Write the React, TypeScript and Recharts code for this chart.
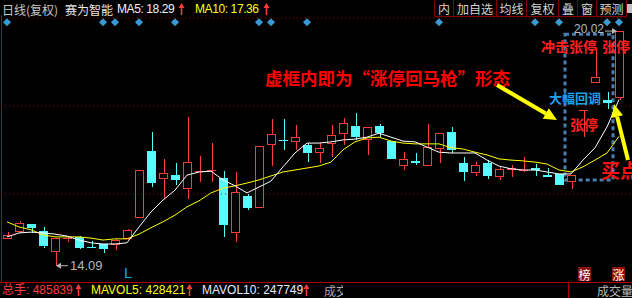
import React from "react";
import {
  ComposedChart,
  Bar,
  Line,
  XAxis,
  YAxis,
  ReferenceLine,
  ReferenceArea,
  ReferenceDot,
} from "recharts";

// daily K line, 52 sessions
const opens = [
  14.77, 14.94, 15.15, 14.97, 14.44, 14.78, 14.82, 14.56, 14.64, 14.62, 14.77, 15.3, 16.99,
  16.28, 16.38, 16.03, 16.46, 16.49, 16.31, 14.92, 15.85, 15.55, 17.14, 17.27, 17.22, 17.14,
  16.94, 17.17, 17.42, 17.62, 17.27, 17.62, 17.24, 16.61, 16.74, 16.61, 17.04, 17.47, 16.69,
  16.43, 16.69, 16.33, 16.52, 16.48, 16.56, 16.38, 16.41, 16.21, 18.02, 18.71, 18.29, 18.33,
];
const closes = [
  14.87, 15.17, 15.05, 14.59, 14.79, 14.8, 14.54, 14.54, 14.52, 14.74, 14.99, 16.51, 16.18,
  16.43, 16.26, 16.71, 16.48, 16.51, 15.12, 15.95, 15.55, 17.12, 17.42, 17.25, 17.34, 16.94,
  17.07, 17.39, 17.7, 17.34, 17.6, 17.44, 16.79, 16.79, 16.69, 17.09, 17.44, 17.02, 16.46,
  16.64, 16.36, 16.54, 16.56, 16.52, 16.52, 16.33, 16.13, 16.38, 18.02, 18.86, 18.2, 20.02,
];
const highs = [
  14.94, 15.22, 15.15, 15.07, 14.79, 14.84, 14.84, 14.72, 14.64, 14.76, 15.02, 16.51, 17.47,
  16.79, 16.69, 17.85, 16.86, 17.19, 16.48, 16.46, 15.9, 17.12, 17.8, 17.8, 17.65, 17.19,
  17.19, 17.65, 17.82, 17.95, 17.6, 17.67, 17.24, 16.96, 16.94, 17.67, 17.44, 17.6, 16.84,
  16.71, 16.76, 16.59, 16.64, 16.84, 16.66, 16.56, 16.41, 16.38, 18.02, 19.59, 18.48, 20.02,
];
const lows = [
  14.77, 14.92, 14.92, 14.54, 14.09, 14.69, 14.52, 14.53, 14.41, 14.49, 14.75, 15.3, 16.08,
  15.8, 16.13, 15.78, 16.21, 16.21, 14.82, 14.69, 15.5, 15.55, 16.61, 17.02, 17.02, 16.71,
  16.69, 16.84, 17.14, 17.27, 16.89, 17.34, 16.79, 16.51, 16.64, 16.61, 16.69, 16.94, 16.23,
  16.36, 16.28, 16.26, 16.33, 16.46, 16.36, 16.33, 16.13, 16.03, 17.34, 18.71, 18.05, 18.28,
];
const ma5 = [
  14.82, 14.92, 14.94, 14.92, 14.89, 14.84, 14.74, 14.67, 14.64, 14.64, 14.67, 15.07, 15.45,
  15.75, 16.0, 16.38, 16.46, 16.48, 16.26, 16.11, 15.93, 16.08, 16.23, 16.59, 16.94, 17.19,
  17.19, 17.22, 17.27, 17.29, 17.34, 17.44, 17.34, 17.24, 17.22, 17.09, 16.96, 16.94, 16.94,
  16.94, 16.76, 16.61, 16.54, 16.51, 16.51, 16.46, 16.41, 16.41, 16.76, 17.07, 17.6, 18.29,
];
const ma10 = [
  15.2, 15.07, 15.0, 14.87, 14.82, 14.82, 14.82, 14.79, 14.74, 14.77, 14.77, 14.89, 15.05,
  15.2, 15.37, 15.58, 15.73, 15.93, 16.05, 16.11, 16.18, 16.26, 16.36, 16.46, 16.51, 16.56,
  16.61, 16.71, 17.02, 17.22, 17.32, 17.34, 17.24, 17.19, 17.17, 17.17, 17.17, 17.07, 17.04,
  16.96, 16.89, 16.79, 16.76, 16.74, 16.71, 16.66, 16.51, 16.46, 16.59, 16.76, 16.94, 17.36,
];
// sessions carrying an info marker (blue diamonds under the header)
const markers = [0, 8, 9, 11, 14, 21, 22, 25, 36, 44, 46, 50, 51];
const menu = ["内", "加自选", "均线", "复权", "叠", "窗", "预测"];

const Y_MIN = 13.68;
const Y_MAX = 20.35;
const MARK_LEVEL = 20.24;
const RED = "#ff3c3c";
const CYAN = "#54fcfc";
const GRID = "#a00000";
const CJK = '"Noto Sans CJK SC", sans-serif';
const LATIN = '"Liberation Sans", Arial, "Noto Sans CJK SC", sans-serif';

const rows = opens.map((o, i) => ({
  i,
  open: o,
  close: closes[i],
  high: highs[i],
  low: lows[i],
  ma5: ma5[i],
  ma10: ma10[i],
}));

const minLow = Math.min(...lows);
const minIdx = lows.indexOf(minLow);
const maxHigh = Math.max(...highs);
const maxIdx = highs.indexOf(maxHigh);
const third = (Y_MAX - Y_MIN) / 3;

function Candle(props: any) {
  const { x, y, width, height, payload } = props;
  const { open, close, high, low } = payload;
  const up = close >= open;
  const color = up ? RED : CYAN;
  const k = high > low ? height / (high - low) : 0;
  const py = (v: number) => y + (high - v) * k;
  const cx = Math.round(x + width / 2) + 0.5;
  const left = Math.round(x);
  const w = Math.round(width);
  const top = Math.round(py(Math.max(open, close)));
  const bot = Math.round(py(Math.min(open, close)));
  const yHi = Math.round(y);
  const yLo = Math.round(y + height);
  let body;
  if (bot - top < 3) {
    body = <rect x={left} y={top} width={w} height={Math.max(1, bot - top)} fill={color} />;
  } else if (up) {
    body = (
      <rect x={left + 0.5} y={top + 0.5} width={w - 1} height={bot - top - 1} fill="#000" stroke={color} />
    );
  } else {
    body = <rect x={left} y={top} width={w} height={bot - top} fill={color} />;
  }
  return (
    <g>
      <line x1={cx} x2={cx} y1={yHi} y2={top} stroke={color} />
      <line x1={cx} x2={cx} y1={bot} y2={yLo} stroke={color} />
      {body}
    </g>
  );
}

function Diamond(props: any) {
  const cx = Number(props.cx);
  const cy = Number(props.cy);
  const r = 4;
  return (
    <polygon
      points={`${cx},${cy - r} ${cx + r},${cy} ${cx},${cy + r} ${cx - r},${cy}`}
      fill="#3a9ad4"
      stroke="none"
    />
  );
}

function LowTag(props: any) {
  const { cx, cy } = props;
  return (
    <g>
      <line x1={cx + 4} x2={cx + 13} y1={cy} y2={cy} stroke="#b8b8b8" />
      <path d={`M${cx + 1},${cy} L${cx + 6},${cy - 3} L${cx + 6},${cy + 3} Z`} fill="#b8b8b8" />
      <text x={cx + 15} y={cy} dominantBaseline="central" fontSize={13} fill="#b8b8c0" fontFamily={LATIN}>
        {minLow.toFixed(2)}
      </text>
    </g>
  );
}

function HighTag(props: any) {
  const { cx, cy } = props;
  return (
    <g>
      <line x1={cx - 14} x2={cx - 6} y1={cy} y2={cy} stroke="#b8b8b8" />
      <path d={`M${cx - 2},${cy} L${cx - 7},${cy - 3} L${cx - 7},${cy + 3} Z`} fill="#b8b8b8" />
      <text x={cx - 15} y={cy - 2} dominantBaseline="central" textAnchor="end" fontSize={12} fill="#b8b8c0" fontFamily={LATIN}>
        {maxHigh.toFixed(2)}
      </text>
    </g>
  );
}

function UpArrow({ x, y }: { x: number; y: number }) {
  return (
    <g>
      <line x1={x + 0.5} x2={x + 0.5} y1={y - 3} y2={y + 6} stroke={RED} strokeWidth={1.5} />
      <path d={`M${x + 0.5},${y - 6} L${x - 2.5},${y - 1} L${x + 3.5},${y - 1} Z`} fill={RED} />
    </g>
  );
}

function Arrow({ x1, y1, x2, y2 }: { x1: number; y1: number; x2: number; y2: number }) {
  const a = Math.atan2(y2 - y1, x2 - x1);
  const len = 13;
  const hw = 6;
  const bx = x2 - len * Math.cos(a);
  const by = y2 - len * Math.sin(a);
  const nx = -Math.sin(a) * hw;
  const ny = Math.cos(a) * hw;
  return (
    <g>
      <line x1={x1} y1={y1} x2={bx} y2={by} stroke="#ffff00" strokeWidth={4} />
      <path d={`M${x2},${y2} L${bx + nx},${by + ny} L${bx - nx},${by - ny} Z`} fill="#ffff00" />
    </g>
  );
}

const menuEdges = [434, 453, 496, 526, 558, 577, 596, 626];

export default function App() {
  return (
    <div
      style={{
        position: "fixed",
        left: 0,
        top: 0,
        width: 632,
        height: 298,
        background: "#000",
        overflow: "hidden",
      }}
    >
      <ComposedChart width={632} height={298} data={rows} margin={{ top: 18, right: 0, bottom: 16, left: 1 }}>
        <XAxis dataKey="i" type="category" hide padding={{ left: 0, right: 7 }} />
        <YAxis type="number" hide domain={[Y_MIN, Y_MAX]} allowDataOverflow />
        <ReferenceLine y={Y_MAX} stroke={GRID} strokeDasharray="1 3" />
        <ReferenceLine y={Y_MIN + 2 * third} stroke={GRID} strokeDasharray="1 3" />
        <ReferenceLine y={Y_MIN + third} stroke={GRID} strokeDasharray="1 3" />
        <Bar
          dataKey={(d: any) => [d.low, d.high]}
          barSize={9}
          shape={(p: any) => <Candle {...p} />}
          isAnimationActive={false}
        />
        <Line dataKey="ma10" stroke="#ffff00" strokeWidth={1} dot={false} activeDot={false} isAnimationActive={false} />
        <Line dataKey="ma5" stroke="#ffffff" strokeWidth={1} dot={false} activeDot={false} isAnimationActive={false} />
        <ReferenceArea
          x1={47}
          x2={50}
          y1={16.26}
          y2={19.94}
          fill="none"
          fillOpacity={0}
          stroke="#4a7eae"
          strokeWidth={3}
          strokeDasharray="4 3"
        />
        <ReferenceDot x={minIdx} y={minLow} shape={(p: any) => <LowTag {...p} />} />
        <ReferenceDot x={maxIdx} y={maxHigh} shape={(p: any) => <HighTag {...p} />} />
        {markers.map((m) => (
          <ReferenceDot key={m} x={m} y={MARK_LEVEL} ifOverflow="visible" shape={(p: any) => <Diamond {...p} />} />
        ))}
      </ComposedChart>

      <svg
        width={632}
        height={298}
        style={{ position: "absolute", left: 0, top: 0, pointerEvents: "none" }}
      >
        {/* frame */}
        <line x1={1.5} x2={1.5} y1={15} y2={282} stroke="#b00000" />
        <line x1={0} x2={632} y1={282.5} y2={282.5} stroke="#b00000" />
        <line x1={568.5} x2={568.5} y1={283} y2={298} stroke="#b00000" />

        {/* header */}
        <text x={2} y={9} dominantBaseline="central" fontSize={12} fill="#c8c8c8" fontFamily={CJK}>
          日线(复权)
        </text>
        <text x={65} y={9} dominantBaseline="central" fontSize={12} fill="#e8e8e8" fontFamily={CJK}>
          赛为智能
        </text>
        <text x={117} y={9} dominantBaseline="central" fontSize={12} letterSpacing={-0.4} fill="#f2f2f2" fontFamily={LATIN}>
          {`MA5: ${ma5[ma5.length - 1].toFixed(2)}`}
        </text>
        <UpArrow x={181} y={9} />
        <text x={195} y={9} dominantBaseline="central" fontSize={12} letterSpacing={-0.4} fill="#ffff00" fontFamily={LATIN}>
          {`MA10: ${ma10[ma10.length - 1].toFixed(2)}`}
        </text>
        <UpArrow x={266} y={9} />
        {menu.map((m, k) => (
          <g key={m}>
            <rect
              x={menuEdges[k] + 0.5}
              y={-1}
              width={menuEdges[k + 1] - menuEdges[k]}
              height={17.5}
              fill="#000"
              stroke="#800000"
            />
            <text
              x={(menuEdges[k] + menuEdges[k + 1]) / 2 + 0.5}
              y={8}
              textAnchor="middle"
              dominantBaseline="central"
              fontSize={12}
              fill="#d4d4d4"
              fontFamily={CJK}
            >
              {m}
            </text>
          </g>
        ))}
        <rect x={627} y={4} width={5} height={9} fill="#c0c0c0" />

        {/* annotations */}
        <text x={265} y={77} dominantBaseline="central" fontSize={17.5} fontWeight="bold" fill="#ff0000" fontFamily={CJK}>
          虚框内即为“涨停回马枪”形态
        </text>
        <Arrow x1={497} y1={85} x2={557} y2={120} />
        <Arrow x1={628} y1={160} x2={614} y2={104} />
        <text x={541} y={46} dominantBaseline="central" fontSize={14} fontWeight="bold" fill="#ff2020" fontFamily={CJK}>
          冲击张停
        </text>
        <text x={602} y={46} dominantBaseline="central" fontSize={14} fontWeight="bold" fill="#ff2020" fontFamily={CJK}>
          张停
        </text>
        <text x={549} y={97} dominantBaseline="central" fontSize={13} fontWeight="bold" fill="#1ea0ec" fontFamily={CJK}>
          大幅回调
        </text>
        <text x={570} y={124} dominantBaseline="central" fontSize={14} fontWeight="bold" fill="#ff2020" fontFamily={CJK}>
          张停
        </text>
        <text x={601} y={169} dominantBaseline="central" fontSize={19} fontWeight="bold" fill="#ff1010" fontFamily={CJK}>
          买点
        </text>
        <text x={124} y={272} dominantBaseline="central" fontSize={15} fill="#1ea0e8" fontFamily={LATIN}>
          L
        </text>
        <rect x={578} y={267} width={13} height={14} fill="#8a1010" />
        <text x={584.5} y={274} textAnchor="middle" dominantBaseline="central" fontSize={12} fill="#fff" fontFamily={CJK}>
          榜
        </text>
        <rect x={612} y={267} width={13} height={14} fill="#8a1010" />
        <text x={618.5} y={274} textAnchor="middle" dominantBaseline="central" fontSize={12} fill="#fff" fontFamily={CJK}>
          涨
        </text>

        {/* footer */}
        <text x={2} y={290} dominantBaseline="central" fontSize={12} fill="#ff3c3c" fontFamily={LATIN}>
          总手: 485839
        </text>
        <UpArrow x={78} y={290} />
        <text x={91} y={290} dominantBaseline="central" fontSize={12} fill="#ffff00" fontFamily={LATIN}>
          MAVOL5: 428421
        </text>
        <UpArrow x={189} y={290} />
        <text x={202} y={290} dominantBaseline="central" fontSize={12} fill="#e8ecff" fontFamily={LATIN}>
          MAVOL10: 247749
        </text>
        <UpArrow x={306} y={290} />
        <svg x={323} y={283} width={20} height={15}>
          <text x={1} y={7} dominantBaseline="central" fontSize={12} fill="#a8a8a8" fontFamily={CJK}>
            成交量
          </text>
        </svg>
        <text x={597} y={290} dominantBaseline="central" fontSize={12} fill="#b8b8b8" fontFamily={CJK}>
          成交量
        </text>
      </svg>
    </div>
  );
}
